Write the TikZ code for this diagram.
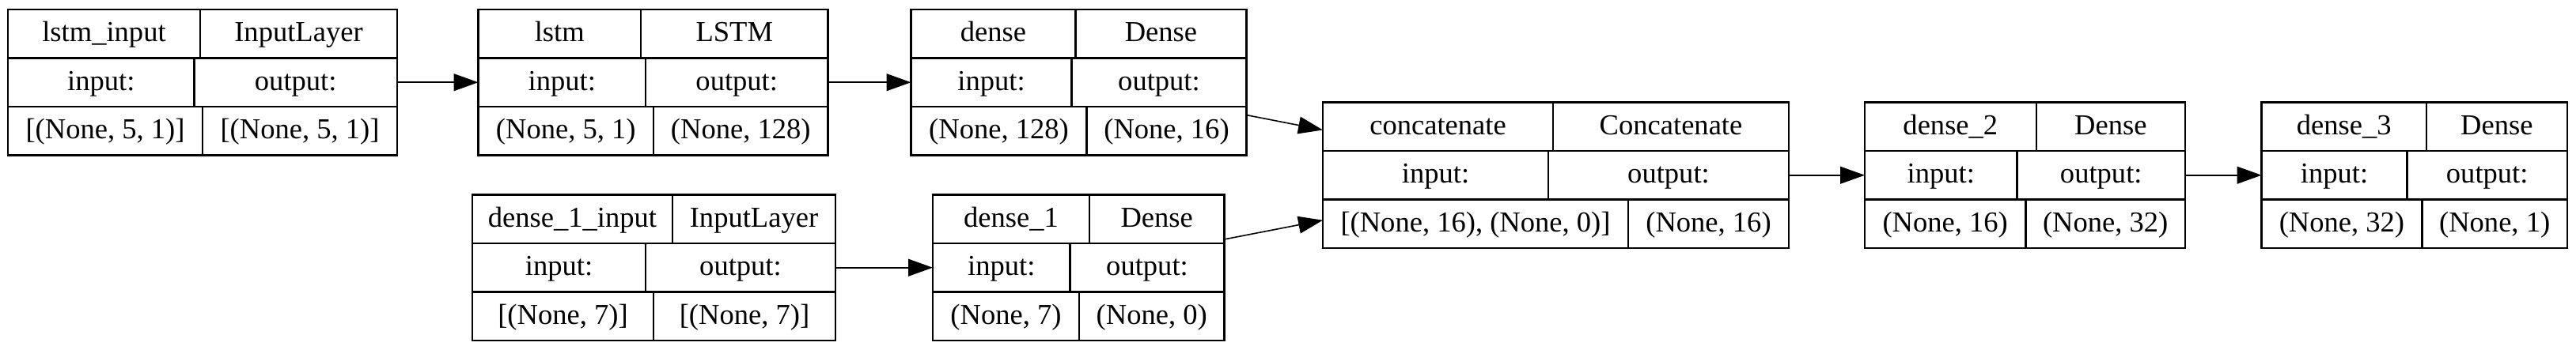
\documentclass[tikz,border=0pt]{standalone}
\usepackage{fontspec}
\setmainfont{Liberation Serif}
\usepackage{tikz}
\usetikzlibrary{arrows.meta}
\usetikzlibrary{positioning}

\begin{document}
\begin{tikzpicture}[->,>={Triangle[length=8.8pt,width=6.2pt]}, line width=0.45pt]
	\tikzstyle{lay}=[rectangle, minimum height=1.845cm, inner sep=0pt, outer sep=0pt]
	\tikzstyle{cell}=[draw, rectangle, line width=0.68pt, minimum height=0.615cm, inner sep=0pt, outer sep=0pt, text height=8pt, text depth=2.4pt, font=\fontsize{10.4}{12}\selectfont]
	\useasboundingbox (0,0) rectangle (32.56,4.43);

	% upper row
	\node[lay,minimum width=4.92cm] (li) at (2.56,3.3875) {};
	\node[cell,minimum width=2.43cm,anchor=north west] (li1) at (li.north west) {lstm\_input};
	\node[cell,minimum width=2.49cm] (li2) [right=0pt of li1] {InputLayer};
	\node[cell,minimum width=2.355cm,anchor=north west] (li3) at (li1.south west) {input:};
	\node[cell,minimum width=2.565cm] (li4) [right=0pt of li3] {output:};
	\node[cell,minimum width=2.46cm,anchor=north west] (li5) at (li3.south west) {[(None, 5, 1)]};
	\node[cell,minimum width=2.46cm] (li6) [right=0pt of li5] {[(None, 5, 1)]};

	\node[lay,minimum width=4.42cm] (ls) at (8.255,3.3875) {};
	\node[cell,minimum width=2.055cm,anchor=north west] (ls1) at (ls.north west) {lstm};
	\node[cell,minimum width=2.365cm] (ls2) [right=0pt of ls1] {LSTM};
	\node[cell,minimum width=2.115cm,anchor=north west] (ls3) at (ls1.south west) {input:};
	\node[cell,minimum width=2.305cm] (ls4) [right=0pt of ls3] {output:};
	\node[cell,minimum width=2.215cm,anchor=north west] (ls5) at (ls3.south west) {(None, 5, 1)};
	\node[cell,minimum width=2.205cm] (ls6) [right=0pt of ls5] {(None, 128)};

	\node[lay,minimum width=4.24cm] (de) at (13.635,3.3875) {};
	\node[cell,minimum width=2.08cm,anchor=north west] (de1) at (de.north west) {dense};
	\node[cell,minimum width=2.16cm] (de2) [right=0pt of de1] {Dense};
	\node[cell,minimum width=2.03cm,anchor=north west] (de3) at (de1.south west) {input:};
	\node[cell,minimum width=2.21cm] (de4) [right=0pt of de3] {output:};
	\node[cell,minimum width=2.22cm,anchor=north west] (de5) at (de3.south west) {(None, 128)};
	\node[cell,minimum width=2.02cm] (de6) [right=0pt of de5] {(None, 16)};

	% lower row
	\node[lay,minimum width=4.59cm] (di) at (8.265,1.0425) {};
	\node[cell,minimum width=2.53cm,anchor=north west] (di1) at (di.north west) {dense\_1\_input};
	\node[cell,minimum width=2.06cm] (di2) [right=0pt of di1] {InputLayer};
	\node[cell,minimum width=2.19cm,anchor=north west] (di3) at (di1.south west) {input:};
	\node[cell,minimum width=2.40cm] (di4) [right=0pt of di3] {output:};
	\node[cell,minimum width=2.29cm,anchor=north west] (di5) at (di3.south west) {[(None, 7)]};
	\node[cell,minimum width=2.30cm] (di6) [right=0pt of di5] {[(None, 7)]};

	\node[lay,minimum width=3.685cm] (d1) at (13.6325,1.0425) {};
	\node[cell,minimum width=1.98cm,anchor=north west] (d11) at (d1.north west) {dense\_1};
	\node[cell,minimum width=1.705cm] (d12) [right=0pt of d11] {Dense};
	\node[cell,minimum width=1.735cm,anchor=north west] (d13) at (d11.south west) {input:};
	\node[cell,minimum width=1.95cm] (d14) [right=0pt of d13] {output:};
	\node[cell,minimum width=1.85cm,anchor=north west] (d15) at (d13.south west) {(None, 7)};
	\node[cell,minimum width=1.835cm] (d16) [right=0pt of d15] {(None, 0)};

	% middle row
	\node[lay,minimum width=5.89cm] (ca) at (19.665,2.2125) {};
	\node[cell,minimum width=2.91cm,anchor=north west] (ca1) at (ca.north west) {concatenate};
	\node[cell,minimum width=2.98cm] (ca2) [right=0pt of ca1] {Concatenate};
	\node[cell,minimum width=2.85cm,anchor=north west] (ca3) at (ca1.south west) {input:};
	\node[cell,minimum width=3.04cm] (ca4) [right=0pt of ca3] {output:};
	\node[cell,minimum width=3.86cm,anchor=north west] (ca5) at (ca3.south west) {[(None, 16), (None, 0)]};
	\node[cell,minimum width=2.03cm] (ca6) [right=0pt of ca5] {(None, 16)};

	\node[lay,minimum width=4.05cm] (d2) at (25.595,2.2125) {};
	\node[cell,minimum width=2.167cm,anchor=north west] (d21) at (d2.north west) {dense\_2};
	\node[cell,minimum width=1.883cm] (d22) [right=0pt of d21] {Dense};
	\node[cell,minimum width=1.925cm,anchor=north west] (d23) at (d21.south west) {input:};
	\node[cell,minimum width=2.125cm] (d24) [right=0pt of d23] {output:};
	\node[cell,minimum width=2.033cm,anchor=north west] (d25) at (d23.south west) {(None, 16)};
	\node[cell,minimum width=2.017cm] (d26) [right=0pt of d25] {(None, 32)};

	\node[lay,minimum width=3.864cm] (d3) at (30.518,2.2125) {};
	\node[cell,minimum width=2.081cm,anchor=north west] (d31) at (d3.north west) {dense\_3};
	\node[cell,minimum width=1.783cm] (d32) [right=0pt of d31] {Dense};
	\node[cell,minimum width=1.838cm,anchor=north west] (d33) at (d31.south west) {input:};
	\node[cell,minimum width=2.026cm] (d34) [right=0pt of d33] {output:};
	\node[cell,minimum width=2.027cm,anchor=north west] (d35) at (d33.south west) {(None, 32)};
	\node[cell,minimum width=1.837cm] (d36) [right=0pt of d35] {(None, 1)};

	\path
		(li) edge (ls)
		(ls) edge (de)
		(de) edge (ca)
		(di) edge (d1)
		(d1) edge (ca)
		(ca) edge (d2)
		(d2) edge (d3);
\end{tikzpicture}
\end{document}
